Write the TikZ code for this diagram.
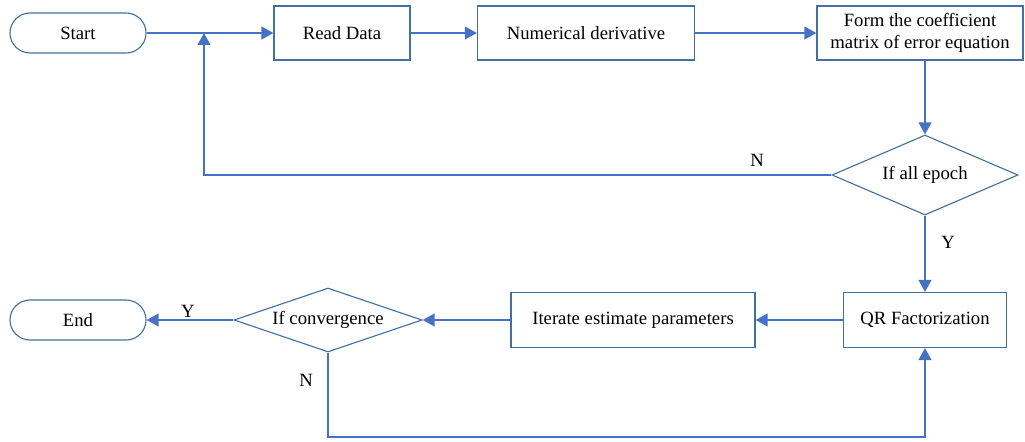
\documentclass[tikz,border=0pt]{standalone}
\usepackage{fontspec}
\setmainfont{Liberation Serif}
\usetikzlibrary{shapes.geometric,arrows.meta}
\definecolor{linkblue}{HTML}{4472C4}
\definecolor{boxblue}{HTML}{41719C}

\begin{document}
\begin{tikzpicture}[x=0.025cm,y=-0.025cm,
    every node/.style={font=\fontsize{13.3}{16}\selectfont},
    terminal/.style={draw=boxblue,line width=0.8pt,rounded corners=0.5cm,minimum width=3.4cm,minimum height=1cm},
    process/.style={draw=boxblue,line width=0.8pt,minimum height=1.35cm,align=center,inner sep=2pt},
    decision/.style={draw=boxblue,line width=0.8pt,diamond,inner sep=0pt},
    flow/.style={draw=linkblue,line width=1.4pt,-{Triangle[length=8.5pt,width=9pt]}}]
    \useasboundingbox (0,0) rectangle (1025,441);
    % top row
    \node[terminal] (start) at (78,33) {Start};
    \node[process,minimum width=3.4cm] (read) at (342,33) {Read Data};
    \node[process,minimum width=5.425cm] (deriv) at (586,33) {Numerical derivative};
    \node[process,minimum width=5.15cm] (coef) at (920,33) {Form the coefficient\\matrix of error equation};
    \node[decision,shape aspect=2.33,minimum width=4.65cm,minimum height=2cm] (epoch) at (925,175) {If all epoch};
    % bottom row
    \node[process,minimum width=4.075cm,minimum height=1.375cm] (qr) at (925,320) {QR Factorization};
    \node[process,minimum width=6.1cm,minimum height=1.375cm] (iter) at (633,320) {Iterate estimate parameters};
    \node[decision,shape aspect=2.94,minimum width=4.7cm,minimum height=1.6cm] (conv) at (328,320) {If convergence};
    \node[terminal] (end) at (78,320) {End};
    \coordinate (join) at (204,33);
    \coordinate (loop) at (328,437);
    % connectors
    \draw[flow] (start) -- (read);
    \draw[flow] (read) -- (deriv);
    \draw[flow] (deriv) -- (coef);
    \draw[flow] (coef.south -| epoch) -- (epoch.north);
    \draw[flow] (epoch.west) -- (epoch.west -| join) -- (join);
    \draw[flow] (epoch.south) -- (qr.north);
    \draw[flow] (qr) -- (iter);
    \draw[flow] (iter) -- (conv);
    \draw[flow] (conv.west) -- (end);
    \draw[flow] (conv.south) -- (loop) -| (qr.south);
    % labels
    \node (lN1) at (757,160) {N};
    \node (lY1) at (948,242) {Y};
    \node (lY2) at (188,311) {Y};
    \node (lN2) at (306,380) {N};
\end{tikzpicture}
\end{document}
